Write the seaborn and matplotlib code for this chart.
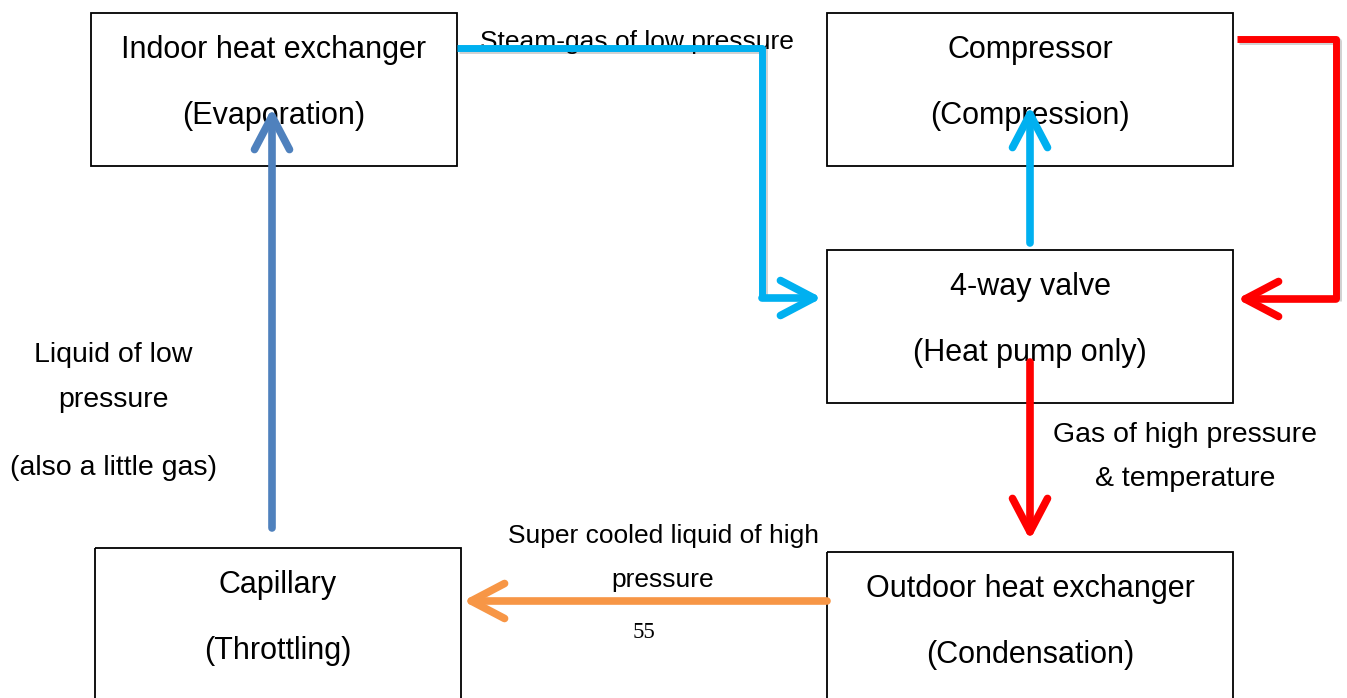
import matplotlib.pyplot as plt
import matplotlib.patheffects as pe
import seaborn as sns

# box texts
box_titles = ["Indoor heat exchanger", "Compressor", "4-way valve", "Capillary", "Outdoor heat exchanger"]
box_subtitles = ["(Evaporation)", "(Compression)", "(Heat pump only)", "(Throttling)", "(Condensation)"]

# flow labels, one entry per text line
flow_lines = [
    "Steam-gas of low pressure",
    "Liquid of low",
    "pressure",
    "(also a little gas)",
    "Gas of high pressure",
    "& temperature",
    "Super cooled liquid of high",
    "pressure",
]
page_number = "55"

flow_colors = ["#00B0F0", "#00B0F0", "#FF0000", "#FF0000", "#F79646", "#4F81BD"]

sns.set_theme(style="white")
plt.rcParams["font.family"] = ["Liberation Sans", "DejaVu Sans"]
plt.rcParams["text.color"] = "black"

# layout (pixel space)
box_pos = [(91, 13, 366, 153), (827, 13, 406, 153), (827, 250, 406, 153),
           (95, 548, 366, 160), (827, 552, 406, 156)]
line_gap = 66
flow_paths = [
    [(457, 48), (762, 48), (762, 298), (822, 298)],
    [(1030, 243), (1030, 106)],
    [(1237, 39), (1336, 39), (1336, 299), (1237, 299)],
    [(1030, 362), (1030, 540)],
    [(827, 601), (463, 601)],
    [(272, 528), (272, 108)],
]
label_pos = [(637, 42, 19), (113, 355, 20.5), (113, 400, 20.5), (113, 468, 20.5),
             (1185, 435, 20.5), (1185, 479, 20.5), (663, 536, 19), (663, 580, 19)]

fig = plt.figure(figsize=(13.47, 6.98), dpi=100)
ax = fig.add_axes([0, 0, 1, 1])
ax.set_xlim(0, 1347)
ax.set_ylim(698, 0)
ax.axis("off")

for (x, y, w, h), t1, t2 in zip(box_pos, box_titles, box_subtitles):
    ax.add_patch(plt.Rectangle((x, y), w, h, fill=False, ec="black", lw=1.3, zorder=1))
    ax.text(x + w / 2, y + 37, t1, ha="center", va="center", fontsize=22, zorder=2)
    ax.text(x + w / 2, y + 37 + line_gap, t2, ha="center", va="center", fontsize=22, zorder=2)

for path, c in zip(flow_paths, flow_colors):
    xs = [p[0] for p in path]
    ys = [p[1] for p in path]
    if len(path) > 2:
        ax.plot(xs[:-1], ys[:-1], color=c, lw=5, solid_joinstyle="round",
                solid_capstyle="butt", zorder=3,
                path_effects=[pe.SimpleLineShadow(offset=(1.5, -1.5), alpha=0.2), pe.Normal()])
    ax.annotate("", xy=path[-1], xytext=path[-2],
                arrowprops=dict(arrowstyle="->,head_length=2.0,head_width=1.05",
                                lw=5.5, color=c, shrinkA=0, shrinkB=0,
                                joinstyle="round", capstyle="round"),
                zorder=4)

for (x, y, fs), t in zip(label_pos, flow_lines):
    ax.text(x, y, t, ha="center", va="center", fontsize=fs, zorder=2)
ax.text(644, 633, page_number, ha="center", va="center", fontsize=16.5,
        family=["Liberation Serif", "DejaVu Serif"])

fig.savefig("out.png", dpi=100, facecolor="white")
